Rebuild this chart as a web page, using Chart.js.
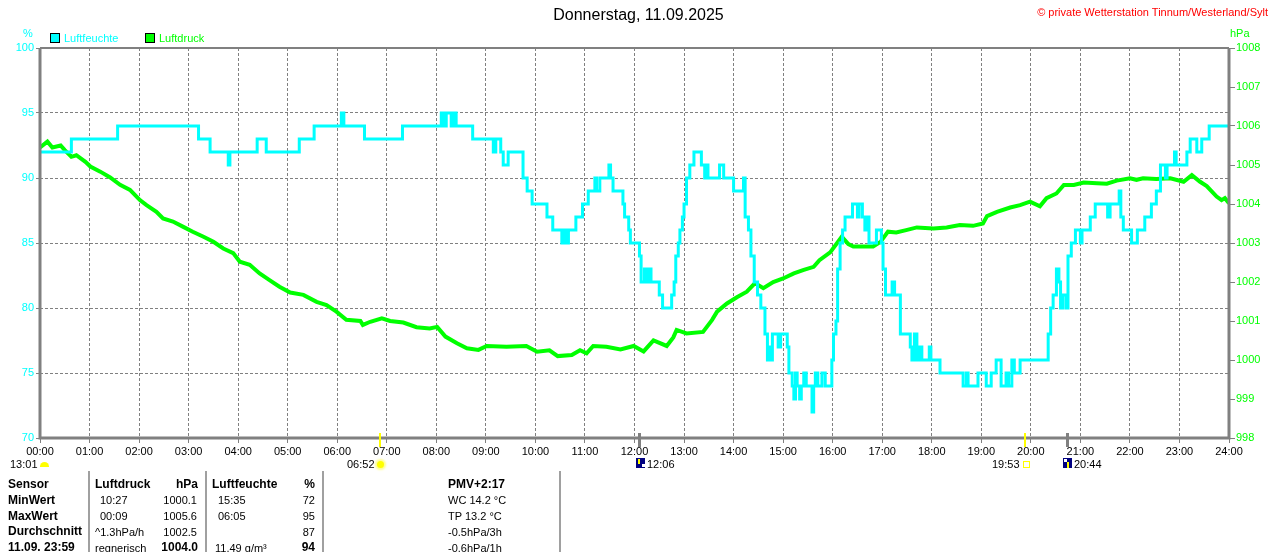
<!DOCTYPE html>
<html>
<head>
<meta charset="utf-8">
<title>Donnerstag, 11.09.2025</title>
<script src="https://cdn.jsdelivr.net/npm/chart.js@4/dist/chart.umd.min.js"></script>
<style>
html,body{margin:0;padding:0;background:#fff;width:1280px;height:552px;overflow:hidden;font-family:'Liberation Sans',Arial,sans-serif;}
#wrap{position:absolute;left:0;top:0;width:1280px;height:470px;}
.t{position:absolute;white-space:nowrap;font-size:11px;line-height:12px;color:#000;}
.b{font-weight:bold;font-size:12px;}
.sep{position:absolute;top:471px;height:81px;width:2px;background:#a0a0a0;}
.box{position:absolute;width:8px;height:8px;border:1px solid #000;top:33px;}
</style>
</head>
<body>
<div id="wrap"><canvas id="c"></canvas></div>

<div class="t" style="left:0;width:1277px;text-align:center;top:7px;font-size:16px;line-height:16px;">Donnerstag, 11.09.2025</div>
<div class="t" style="right:12px;top:6px;color:#ff0000;">© private Wetterstation Tinnum/Westerland/Sylt</div>

<div class="t" style="left:23px;top:27px;color:#00ffff;">%</div>
<div class="t" style="left:1230px;top:27px;color:#00ff00;">hPa</div>
<div class="box" style="left:50px;background:#00ffff;"></div>
<div class="t" style="left:64px;top:32px;color:#00ffff;">Luftfeuchte</div>
<div class="box" style="left:145px;background:#00ff00;"></div>
<div class="t" style="left:159px;top:32px;color:#00ff00;">Luftdruck</div>

<!-- Sonne / Mond -->
<div class="t" style="left:10px;top:458px;">13:01</div>
<div style="position:absolute;left:40px;top:462px;width:9px;height:5px;background:#ffff00;border-radius:5px 5px 0 0;"></div>
<div class="t" style="left:347px;top:458px;">06:52</div>
<div style="position:absolute;left:377px;top:461px;width:7px;height:7px;background:#ffff00;border-radius:50%;box-shadow:0 0 2px 2px #ffff90;"></div>
<div style="position:absolute;left:636px;top:458px;width:9px;height:10px;background:#000080;"></div>
<div style="position:absolute;left:638px;top:459px;width:2px;height:5px;background:#ffff00;"></div>
<div style="position:absolute;left:642px;top:464px;width:3px;height:3px;background:#ffffff;"></div>
<div class="t" style="left:647px;top:458px;">12:06</div>
<div class="t" style="left:992px;top:458px;">19:53</div>
<div style="position:absolute;left:1023px;top:461px;width:5px;height:5px;border:1px solid #ffff00;"></div>
<div style="position:absolute;left:1063px;top:458px;width:9px;height:10px;background:#000080;"></div>
<div style="position:absolute;left:1064px;top:459px;width:3px;height:3px;background:#ffffff;"></div>
<div style="position:absolute;left:1067px;top:462px;width:2px;height:6px;background:#ffff00;"></div>
<div class="t" style="left:1074px;top:458px;">20:44</div>

<!-- Tabelle -->
<div class="sep" style="left:88px;"></div>
<div class="sep" style="left:205px;"></div>
<div class="sep" style="left:322px;"></div>
<div class="sep" style="left:559px;"></div>

<div class="t b" style="left:8px;top:478px;">Sensor</div>
<div class="t b" style="left:95px;top:478px;">Luftdruck</div>
<div class="t b" style="right:1082px;top:478px;">hPa</div>
<div class="t b" style="left:212px;top:478px;">Luftfeuchte</div>
<div class="t b" style="right:965px;top:478px;">%</div>
<div class="t b" style="left:448px;top:478px;">PMV+2:17</div>

<div class="t b" style="left:8px;top:494px;">MinWert</div>
<div class="t" style="left:100px;top:494px;">10:27</div>
<div class="t" style="right:1083px;top:494px;">1000.1</div>
<div class="t" style="left:218px;top:494px;">15:35</div>
<div class="t" style="right:965px;top:494px;">72</div>
<div class="t" style="left:448px;top:494px;">WC 14.2 °C</div>

<div class="t b" style="left:8px;top:510px;">MaxWert</div>
<div class="t" style="left:100px;top:510px;">00:09</div>
<div class="t" style="right:1083px;top:510px;">1005.6</div>
<div class="t" style="left:218px;top:510px;">06:05</div>
<div class="t" style="right:965px;top:510px;">95</div>
<div class="t" style="left:448px;top:510px;">TP 13.2 °C</div>

<div class="t b" style="left:8px;top:525px;">Durchschnitt</div>
<div class="t" style="left:95px;top:526px;">^1.3hPa/h</div>
<div class="t" style="right:1083px;top:526px;">1002.5</div>
<div class="t" style="right:965px;top:526px;">87</div>
<div class="t" style="left:448px;top:526px;">-0.5hPa/3h</div>

<div class="t b" style="left:8px;top:541px;">11.09. 23:59</div>
<div class="t" style="left:95px;top:542px;">regnerisch</div>
<div class="t b" style="right:1082px;top:541px;">1004.0</div>
<div class="t" style="left:215px;top:542px;">11.49 g/m³</div>
<div class="t b" style="right:965px;top:541px;">94</div>
<div class="t" style="left:448px;top:542px;">-0.6hPa/1h</div>

<script>
// ---- Daten ----
const humTimes = ['00:00','00:38','01:34','03:12','03:26','03:48','03:50','04:23','04:34','05:14','05:32','06:05','06:08','06:33','07:19',
 '08:06','08:09','08:12','08:18','08:21','08:24','08:44','09:09','09:12','09:18','09:21','09:27','09:45','09:50','09:56',
 '10:14','10:21','10:32','10:35','10:37','10:40','10:49','10:57','11:04','11:12','11:14','11:18','11:29','11:31','11:34',
 '11:46','11:48','11:53','11:55','12:06','12:08','12:12','12:15','12:18','12:20','12:30','12:34','12:45','12:48','12:50',
 '12:53','12:55','12:58','13:00','13:03','13:07','13:12','13:21','13:25','13:27','13:29','13:43','13:48','14:00','14:12',
 '14:14','14:18','14:21','14:25','14:29','14:33','14:38','14:41','14:43','14:45','14:47','14:54','14:57','15:05','15:07',
 '15:11','15:13','15:15','15:17','15:20','15:22','15:25','15:28','15:35','15:37','15:39','15:42','15:47','15:51','15:59',
 '16:01','16:04','16:06','16:09','16:12','16:15','16:24','16:30','16:32','16:36','16:39','16:42','16:44','16:53','16:59',
 '17:01','17:04','17:12','17:15','17:22','17:34','17:36','17:39','17:42','17:45','17:48','17:57','17:59','18:10','18:38',
 '18:42','18:44','18:56','19:06','19:12','19:18','19:24','19:30','19:33','19:37','19:40','19:47','20:21','20:24','20:27',
 '20:31','20:34','20:36','20:39','20:43','20:45','20:49','20:54','21:00','21:02','21:12','21:18','21:33','21:36','21:47',
 '21:49','21:52','22:02','22:09','22:18','22:26','22:32','22:37','22:43','22:45','22:54','22:56','23:09','23:13','23:21',
 '23:27','23:36','24:00'];
const humValues = [92,93,94,93,92,91,92,93,92,93,94,95,94,93,94,
 95,94,95,94,95,94,93,92,93,92,91,92,90,89,88,
 87,86,85,86,85,86,87,88,89,90,89,90,91,90,89,
 88,87,86,85,84,82,83,82,83,82,81,80,81,82,84,
 85,86,87,88,90,91,92,91,90,91,90,91,90,89,90,
 87,86,84,82,81,80,78,76,77,76,78,77,78,77,75,
 74,73,75,74,73,74,75,74,72,74,75,74,75,74,76,
 78,79,83,85,86,87,88,87,88,87,86,87,85,86,85,
 83,81,82,81,78,77,76,78,76,77,76,77,76,75,74,
 75,74,75,74,75,76,74,75,74,76,75,76,78,80,81,
 83,82,80,81,80,84,85,86,85,86,87,88,87,88,89,
 87,86,85,86,87,88,89,91,90,91,92,91,92,93,92,
 93,94,94];

const presTimes = ['00:00','00:09','00:15','00:25','00:30','00:38','00:44','00:55','01:01','01:13','01:25','01:37','01:49','02:01','02:09',
 '02:21','02:29','02:41','02:53','03:05','03:18','03:30','03:42','03:54','04:02','04:14','04:26','04:38','04:50','05:03',
 '05:19','05:35','05:47','05:59','06:11','06:28','06:31','06:40','06:54','07:04','07:20','07:36','07:52','08:01','08:11',
 '08:25','08:37','08:51','09:01','09:25','09:49','10:02','10:17','10:27','10:44','10:54','11:02','11:10','11:26','11:43',
 '11:59','12:11','12:23','12:39','12:47','12:51','13:03','13:23','13:34','13:40','13:52','14:04','14:16','14:26','14:36',
 '14:48','15:00','15:13','15:25','15:37','15:44','15:57','16:11','16:19','16:25','16:49','16:58','17:07','17:17','17:29',
 '17:42','18:02','18:18','18:34','18:50','19:02','19:07','19:19','19:35','19:47','19:59','20:11','20:19','20:31','20:40',
 '20:52','21:04','21:20','21:32','21:44','22:00','22:08','22:16','22:32','22:49','23:05','23:15','23:25','23:33','23:45',
 '23:51','23:55','24:00'];
const presValues = [1005.45,1005.6,1005.45,1005.5,1005.38,1005.21,1005.25,1005.08,1004.96,1004.83,1004.68,1004.49,1004.36,1004.10,1003.97,
 1003.80,1003.63,1003.55,1003.42,1003.29,1003.16,1003.03,1002.86,1002.74,1002.52,1002.44,1002.22,1002.05,1001.88,1001.73,
 1001.67,1001.49,1001.41,1001.24,1001.03,1001.0,1000.9,1000.98,1001.07,1001.0,1000.96,1000.84,1000.81,1000.85,1000.6,
 1000.43,1000.30,1000.26,1000.36,1000.34,1000.36,1000.21,1000.25,1000.1,1000.13,1000.25,1000.17,1000.36,1000.34,1000.27,
 1000.36,1000.22,1000.5,1000.36,1000.58,1000.77,1000.68,1000.72,1001.03,1001.24,1001.45,1001.61,1001.75,1001.97,1001.84,
 1002.0,1002.09,1002.22,1002.31,1002.39,1002.56,1002.76,1003.16,1002.97,1002.91,1002.91,1003.03,1003.29,1003.27,1003.33,
 1003.40,1003.37,1003.40,1003.46,1003.44,1003.50,1003.69,1003.80,1003.91,1003.97,1004.06,1003.94,1004.15,1004.27,1004.49,
 1004.49,1004.55,1004.53,1004.52,1004.60,1004.66,1004.62,1004.66,1004.64,1004.66,1004.57,1004.74,1004.57,1004.46,1004.19,
 1004.10,1004.15,1004.02];

const sunEvents = ['06:52','19:53'];
const moonEvents = ['12:06','20:44'];

function toH(s){ const p = s.split(':').map(Number); return p[0] + p[1]/60; }

const framePlugin = {
  id: 'frame',
  afterDatasetsDraw(chart){
    const ctx = chart.ctx, a = chart.chartArea, xs = chart.scales.x;
    ctx.save();
    ctx.strokeStyle = '#808080';
    ctx.lineWidth = 3;
    ctx.beginPath();
    ctx.moveTo(a.left, a.top); ctx.lineTo(a.left, a.bottom); ctx.lineTo(a.right, a.bottom); ctx.lineTo(a.right, a.top);
    ctx.stroke();
    ctx.lineWidth = 2;
    ctx.beginPath(); ctx.moveTo(a.left, a.top); ctx.lineTo(a.right, a.top); ctx.stroke();
    sunEvents.forEach(t => {
      const x = xs.getPixelForValue(toH(t));
      ctx.fillStyle = '#ffff00';
      ctx.fillRect(Math.round(x) - 1, a.bottom - 5, 2, 14);
    });
    moonEvents.forEach(t => {
      const x = xs.getPixelForValue(toH(t));
      ctx.fillStyle = '#808080';
      ctx.fillRect(Math.round(x) - 1, a.bottom - 5, 3, 14);
    });
    ctx.restore();
  }
};

Chart.defaults.font.family = "'Liberation Sans', Arial, sans-serif";
Chart.defaults.font.size = 11;

new Chart(document.getElementById('c'), {
  type: 'line',
  data: {
    datasets: [
      { label: 'Luftfeuchte', data: humTimes.map((t,i) => ({x: toH(t), y: humValues[i]})),
        borderColor: '#00ffff', backgroundColor: '#00ffff', borderWidth: 3, pointRadius: 0,
        stepped: true, yAxisID: 'yH', order: 0 },
      { label: 'Luftdruck', data: presTimes.map((t,i) => ({x: toH(t), y: presValues[i]})),
        borderColor: '#00ff00', backgroundColor: '#00ff00', borderWidth: 4, pointRadius: 0,
        tension: 0, yAxisID: 'yP', order: 1 }
    ]
  },
  options: {
    animation: false,
    responsive: true,
    maintainAspectRatio: false,
    layout: { padding: { top: 48, left: 0, right: 0, bottom: 0 } },
    plugins: { legend: { display: false }, tooltip: { enabled: false }, title: { display: false } },
    scales: {
      x: {
        type: 'linear', min: 0, max: 24,
        afterFit: s => { s.height = 32; },
        ticks: { stepSize: 1, autoSkip: false, maxRotation: 0, color: '#000', padding: 2,
                 callback: v => String(Math.round(v)).padStart(2,'0') + ':00' },
        grid: { color: '#808080', lineWidth: 1, tickLength: 5, tickColor: '#808080' },
        border: { display: false, dash: [3,2] }
      },
      yH: {
        position: 'left', min: 70, max: 100,
        afterFit: s => { s.width = 40; },
        ticks: { stepSize: 5, color: '#00ffff', padding: 2, callback: v => String(v) },
        grid: { color: '#808080', lineWidth: 1, tickLength: 4 },
        border: { display: false, dash: [3,2] }
      },
      yP: {
        position: 'right', min: 998, max: 1008,
        afterFit: s => { s.width = 51; },
        ticks: { stepSize: 1, color: '#00ff00', padding: 1, callback: v => String(Math.round(v)) },
        grid: { drawOnChartArea: false, color: '#808080', lineWidth: 1, tickLength: 6 },
        border: { display: false }
      }
    }
  },
  plugins: [framePlugin]
});
</script>
</body>
</html>
